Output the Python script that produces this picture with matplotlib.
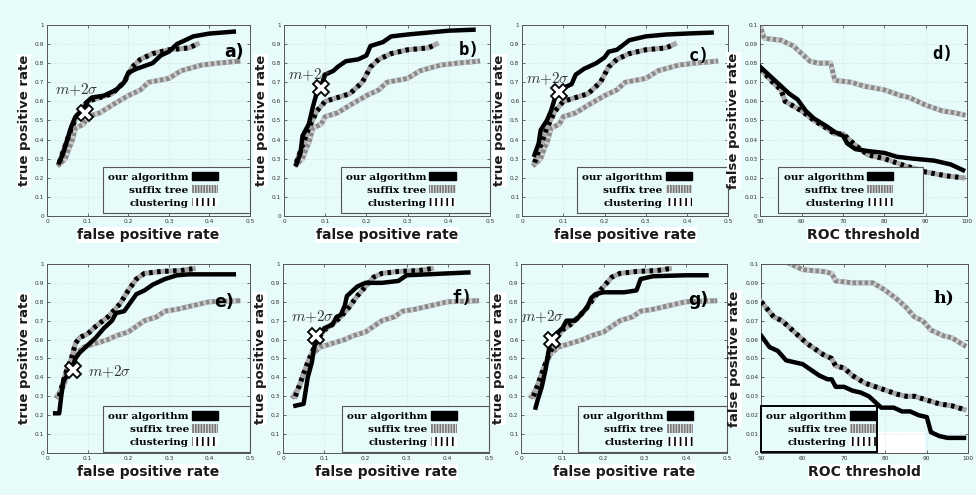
import matplotlib
matplotlib.use("Agg")
import matplotlib.pyplot as plt
from matplotlib.patches import Patch, Rectangle

plt.rcParams['mathtext.fontset'] = 'cm'
plt.rcParams['hatch.linewidth'] = 1.2

BG = '#e7fbfb'

# ---- ROC curves, top row (a, b, c share suffix tree and clustering) ----
top_suffix_x = [0.03, 0.045, 0.055, 0.06, 0.07, 0.09, 0.10, 0.13, 0.16, 0.20, 0.23, 0.25, 0.30, 0.33, 0.38, 0.42, 0.47]
top_suffix_y = [0.27, 0.30, 0.36, 0.38, 0.46, 0.48, 0.52, 0.54, 0.58, 0.63, 0.66, 0.70, 0.72, 0.76, 0.79, 0.80, 0.81]
top_clust_x = [0.03, 0.04, 0.05, 0.06, 0.08, 0.10, 0.13, 0.16, 0.19, 0.21, 0.23, 0.26, 0.30, 0.35, 0.37]
top_clust_y = [0.28, 0.34, 0.40, 0.46, 0.55, 0.60, 0.62, 0.64, 0.70, 0.78, 0.82, 0.85, 0.87, 0.88, 0.90]

a_our_x = [0.03, 0.04, 0.05, 0.06, 0.07, 0.09, 0.10, 0.11, 0.14, 0.17, 0.19, 0.20, 0.22, 0.26, 0.28, 0.30, 0.32, 0.34, 0.36, 0.40, 0.46]
a_our_y = [0.28, 0.33, 0.40, 0.47, 0.52, 0.56, 0.60, 0.62, 0.63, 0.66, 0.70, 0.75, 0.77, 0.80, 0.84, 0.86, 0.90, 0.92, 0.94, 0.955, 0.965]
b_our_x = [0.03, 0.04, 0.045, 0.05, 0.06, 0.07, 0.08, 0.09, 0.10, 0.12, 0.13, 0.15, 0.18, 0.20, 0.21, 0.24, 0.26, 0.30, 0.35, 0.40, 0.46]
b_our_y = [0.27, 0.33, 0.42, 0.44, 0.48, 0.57, 0.65, 0.68, 0.74, 0.76, 0.78, 0.81, 0.82, 0.84, 0.89, 0.91, 0.94, 0.95, 0.96, 0.97, 0.975]
c_our_x = [0.03, 0.04, 0.045, 0.06, 0.07, 0.08, 0.09, 0.10, 0.12, 0.13, 0.15, 0.18, 0.20, 0.21, 0.23, 0.26, 0.30, 0.35, 0.40, 0.46]
c_our_y = [0.32, 0.38, 0.45, 0.50, 0.55, 0.62, 0.65, 0.67, 0.69, 0.74, 0.77, 0.80, 0.83, 0.86, 0.87, 0.92, 0.94, 0.95, 0.955, 0.96]

# ---- ROC curves, bottom row ----
bot_suffix_x = [0.025, 0.04, 0.05, 0.07, 0.09, 0.12, 0.15, 0.17, 0.20, 0.22, 0.24, 0.27, 0.29, 0.32, 0.36, 0.40, 0.47]
bot_suffix_y = [0.30, 0.35, 0.42, 0.52, 0.56, 0.58, 0.60, 0.62, 0.64, 0.67, 0.70, 0.72, 0.75, 0.76, 0.78, 0.80, 0.805]
e_clust_x = [0.03, 0.04, 0.05, 0.06, 0.07, 0.08, 0.10, 0.12, 0.15, 0.18, 0.20, 0.22, 0.24, 0.28, 0.33, 0.36]
e_clust_y = [0.30, 0.38, 0.45, 0.50, 0.58, 0.61, 0.63, 0.67, 0.72, 0.79, 0.86, 0.92, 0.95, 0.96, 0.965, 0.975]
fg_clust_x = [0.03, 0.04, 0.05, 0.06, 0.07, 0.08, 0.09, 0.10, 0.12, 0.14, 0.16, 0.18, 0.20, 0.22, 0.24, 0.28, 0.33, 0.36]
fg_clust_y = [0.30, 0.36, 0.42, 0.48, 0.53, 0.58, 0.62, 0.65, 0.68, 0.72, 0.77, 0.83, 0.88, 0.93, 0.95, 0.96, 0.965, 0.975]

e_our_x = [0.02, 0.03, 0.035, 0.04, 0.05, 0.06, 0.07, 0.08, 0.10, 0.12, 0.14, 0.16, 0.17, 0.19, 0.20, 0.22, 0.24, 0.26, 0.29, 0.32, 0.35, 0.46]
e_our_y = [0.21, 0.21, 0.30, 0.38, 0.41, 0.44, 0.50, 0.53, 0.57, 0.61, 0.66, 0.70, 0.74, 0.75, 0.78, 0.84, 0.86, 0.89, 0.92, 0.94, 0.945, 0.945]
f_our_x = [0.03, 0.05, 0.055, 0.06, 0.07, 0.075, 0.08, 0.09, 0.10, 0.12, 0.13, 0.14, 0.15, 0.155, 0.17, 0.18, 0.20, 0.24, 0.28, 0.30, 0.35, 0.45]
f_our_y = [0.25, 0.26, 0.33, 0.40, 0.48, 0.55, 0.60, 0.63, 0.66, 0.68, 0.72, 0.73, 0.78, 0.83, 0.86, 0.88, 0.90, 0.90, 0.91, 0.94, 0.945, 0.955]
g_our_x = [0.035, 0.04, 0.05, 0.06, 0.065, 0.07, 0.08, 0.09, 0.10, 0.11, 0.13, 0.14, 0.16, 0.17, 0.18, 0.20, 0.25, 0.28, 0.29, 0.32, 0.40, 0.45]
g_our_y = [0.24, 0.28, 0.35, 0.45, 0.52, 0.58, 0.62, 0.64, 0.66, 0.70, 0.70, 0.72, 0.77, 0.82, 0.84, 0.85, 0.85, 0.86, 0.92, 0.935, 0.94, 0.94]

# ---- false positive rate vs ROC threshold ----
d_thr_our = [50, 52, 55, 57, 59, 61, 63, 66, 68, 70, 71, 73, 76, 80, 83, 87, 92, 96, 99]
d_fpr_our = [0.078, 0.074, 0.068, 0.064, 0.061, 0.055, 0.051, 0.047, 0.044, 0.042, 0.038, 0.035, 0.034, 0.033, 0.031, 0.030, 0.029, 0.027, 0.024]
d_thr_suffix = [50, 51, 55, 58, 60, 62, 64, 67, 68, 72, 75, 80, 84, 86, 90, 94, 97, 99]
d_fpr_suffix = [0.099, 0.093, 0.092, 0.089, 0.085, 0.081, 0.080, 0.080, 0.071, 0.070, 0.068, 0.066, 0.063, 0.062, 0.058, 0.055, 0.054, 0.053]
d_thr_clust = [50, 53, 55, 56, 60, 63, 66, 68, 70, 73, 76, 80, 84, 87, 90, 95, 99]
d_fpr_clust = [0.077, 0.070, 0.066, 0.060, 0.055, 0.050, 0.046, 0.043, 0.043, 0.037, 0.032, 0.030, 0.027, 0.025, 0.023, 0.021, 0.020]

h_thr_our = [50, 52, 54, 56, 58, 60, 62, 64, 66, 67, 68, 70, 72, 74, 76, 78, 79, 82, 84, 86, 88, 90, 91, 93, 95, 99]
h_fpr_our = [0.062, 0.056, 0.054, 0.049, 0.048, 0.047, 0.044, 0.041, 0.039, 0.039, 0.035, 0.035, 0.033, 0.032, 0.030, 0.026, 0.024, 0.024, 0.022, 0.022, 0.020, 0.019, 0.011, 0.009, 0.008, 0.008]
h_thr_suffix = [57, 60, 65, 67, 68, 72, 77, 80, 83, 85, 87, 89, 91, 94, 96, 99]
h_fpr_suffix = [0.100, 0.097, 0.096, 0.095, 0.091, 0.090, 0.090, 0.086, 0.081, 0.077, 0.072, 0.070, 0.065, 0.062, 0.061, 0.057]
h_thr_clust = [50, 53, 55, 58, 61, 65, 67, 68, 70, 72, 75, 79, 83, 85, 87, 90, 93, 96, 99]
h_fpr_clust = [0.080, 0.072, 0.070, 0.064, 0.058, 0.052, 0.050, 0.046, 0.045, 0.041, 0.037, 0.034, 0.031, 0.030, 0.030, 0.028, 0.026, 0.025, 0.023]

# m+2sigma operating points
mark_pts = {'a': (0.094, 0.54), 'b': (0.09, 0.67), 'c': (0.09, 0.65),
            'e': (0.065, 0.44), 'f': (0.08, 0.62), 'g': (0.075, 0.60)}

fig = plt.figure(figsize=(9.76, 4.95), dpi=100)
fig.patch.set_facecolor(BG)


def draw_our(ax, x, y):
    ax.plot(x, y, color='black', lw=3.2, zorder=4)


def draw_suffix(ax, x, y):
    ax.plot(x, y, color='#8a8a8a', lw=3.6, zorder=2)
    ax.plot(x, y, color='#cfcfcf', lw=3.6, dashes=(0.5, 0.7), zorder=2)


def draw_clust(ax, x, y):
    ax.plot(x, y, color='#a8a8a8', lw=3.6, zorder=3)
    ax.plot(x, y, color='black', lw=3.6, dashes=(0.7, 0.9), zorder=3)


def style_axes(ax, roc, xlabel, ylabel):
    ax.set_facecolor(BG)
    if roc:
        ax.set_xlim(0, 0.5)
        ax.set_ylim(0, 1)
        ax.set_xticks([0, 0.1, 0.2, 0.3, 0.4, 0.5])
        ax.set_xticklabels(['0', '0.1', '0.2', '0.3', '0.4', '0.5'])
        ax.set_yticks([i / 10 for i in range(11)])
        ax.set_yticklabels(['0'] + ['%.1f' % (i / 10) for i in range(1, 10)] + ['1'])
    else:
        ax.set_xlim(50, 100)
        ax.set_ylim(0, 0.1)
        ax.set_xticks(range(50, 101, 10))
        ax.set_yticks([i / 100 for i in range(11)])
        ax.set_yticklabels(['0'] + ['%.2f' % (i / 100) for i in range(1, 10)] + ['0.1'])
    ax.tick_params(labelsize=4.2, length=2, width=0.5, direction='in',
                   colors='#333333', pad=2, top=True, right=True,
                   labeltop=False, labelright=False)
    ax.grid(True, color='#cdd6d6', lw=0.5, ls=':')
    for s in ax.spines.values():
        s.set_color('#555555')
        s.set_linewidth(0.7)
    box = dict(facecolor='white', edgecolor='none', pad=0.5)
    ax.set_xlabel(xlabel, fontsize=10, fontweight='bold', labelpad=3, bbox=box,
                  color='#1a1a1a')
    ax.set_ylabel(ylabel, fontsize=9.5, fontweight='bold', labelpad=3, bbox=box,
                  color='#1a1a1a')


handles = [Patch(facecolor='black', edgecolor='black'),
           Patch(facecolor='#dddddd', edgecolor='#777777', hatch='||||||', lw=0),
           Patch(facecolor='white', edgecolor='black', hatch='|||', lw=0)]
labels = ['our algorithm', 'suffix tree', 'clustering']


def add_legend(ax, anchor, edge='#555555', lw=0.8):
    leg = ax.legend(handles, labels, loc='lower right', bbox_to_anchor=anchor,
                    mode='expand', markerfirst=False, frameon=True, fancybox=False,
                    framealpha=1, facecolor=BG, edgecolor=edge,
                    prop={'family': 'DejaVu Serif', 'weight': 'bold', 'size': 7.5},
                    handlelength=2.5, handleheight=0.9, handletextpad=0.3,
                    labelspacing=0.3, borderpad=0.5, borderaxespad=0)
    leg.get_frame().set_linewidth(lw)
    leg.set_zorder(10)
    return leg


# panel layout
top_b, bot_b, h_top, h_bot = 0.5636, 0.0848, 0.386, 0.382
lefts_top = [0.0482, 0.291, 0.535, 0.779]
lefts_bot = [0.0482, 0.290, 0.534, 0.780]
widths = [0.208, 0.211, 0.211, 0.212]

roc_panels = [
    ('a', lefts_top[0], top_b, h_top, widths[0], a_our_x, a_our_y, top_suffix_x, top_suffix_y, top_clust_x, top_clust_y,
     (0.275, 0.016, 0.725, 0.255), (0.02, 0.66), 'sans', (0.92, 0.86)),
    ('b', lefts_top[1], top_b, h_top, widths[1], b_our_x, b_our_y, top_suffix_x, top_suffix_y, top_clust_x, top_clust_y,
     (0.275, 0.016, 0.725, 0.255), (0.01, 0.74), 'mono', (0.9, 0.87)),
    ('c', lefts_top[2], top_b, h_top, widths[2], c_our_x, c_our_y, top_suffix_x, top_suffix_y, top_clust_x, top_clust_y,
     (0.265, 0.016, 0.735, 0.255), (0.01, 0.72), 'mono', (0.86, 0.84)),
    ('e', lefts_bot[0], bot_b, h_bot, widths[0], e_our_x, e_our_y, bot_suffix_x, bot_suffix_y, e_clust_x, e_clust_y,
     (0.277, 0.005, 0.723, 0.26), (0.10, 0.43), 'sans', (0.87, 0.80)),
    ('f', lefts_bot[1], bot_b, h_bot, widths[1], f_our_x, f_our_y, bot_suffix_x, bot_suffix_y, fg_clust_x, fg_clust_y,
     (0.285, 0.005, 0.715, 0.26), (0.02, 0.72), 'mono', (0.87, 0.82)),
    ('g', lefts_bot[2], bot_b, h_bot, widths[2], g_our_x, g_our_y, bot_suffix_x, bot_suffix_y, fg_clust_x, fg_clust_y,
     (0.275, 0.005, 0.725, 0.26), (0.0, 0.72), 'sans', (0.86, 0.81)),
]

for (lab, left, bottom, hgt, wid, ox, oy, sx, sy, cx, cy, leg_anchor, txt_pos, lfont, lab_pos) in roc_panels:
    ax = fig.add_axes([left, bottom, wid, hgt])
    style_axes(ax, True, 'false positive rate', 'true positive rate')
    draw_suffix(ax, sx, sy)
    draw_clust(ax, cx, cy)
    draw_our(ax, ox, oy)
    mx, my = mark_pts[lab]
    ax.plot(mx, my, marker='X', ms=11, mfc='white', mec='black', mew=1.3, zorder=6)
    ax.text(txt_pos[0], txt_pos[1], r'$m{+}2\sigma$', fontsize=11, color='#333333',
            ha='left', va='center', zorder=7)
    fam = 'DejaVu Sans Mono' if lfont == 'mono' else 'DejaVu Sans'
    ax.text(lab_pos[0], lab_pos[1], lab + ')', transform=ax.transAxes, fontsize=12.5,
            fontweight='bold', family=fam, ha='center', va='center', zorder=8)
    add_legend(ax, leg_anchor)

# panel d
ax = fig.add_axes([lefts_top[3], top_b, widths[3], h_top])
style_axes(ax, False, 'ROC threshold', 'false positive rate')
draw_suffix(ax, d_thr_suffix, d_fpr_suffix)
draw_clust(ax, d_thr_clust, d_fpr_clust)
draw_our(ax, d_thr_our, d_fpr_our)
ax.text(0.88, 0.85, 'd)', transform=ax.transAxes, fontsize=12.5, fontweight='bold',
        family='DejaVu Sans Mono', ha='center', va='center')
add_legend(ax, (0.087, 0.016, 0.70, 0.255))

# panel h
ax = fig.add_axes([lefts_bot[3], bot_b, widths[3], h_bot])
style_axes(ax, False, 'ROC threshold', 'false positive rate')
draw_suffix(ax, h_thr_suffix, h_fpr_suffix)
draw_clust(ax, h_thr_clust, h_fpr_clust)
draw_our(ax, h_thr_our, h_fpr_our)
ax.text(0.88, 0.82, 'h)', transform=ax.transAxes, fontsize=12.5, fontweight='bold',
        family='DejaVu Serif', ha='center', va='center')
ax.add_patch(Rectangle((0.56, 0.0), 0.23, 0.11, transform=ax.transAxes,
                       facecolor='white', edgecolor='none', zorder=1))
add_legend(ax, (0.0, 0.005, 0.56, 0.25), edge='black', lw=1.4)

fig.savefig('out.png', dpi=100, facecolor=BG)
